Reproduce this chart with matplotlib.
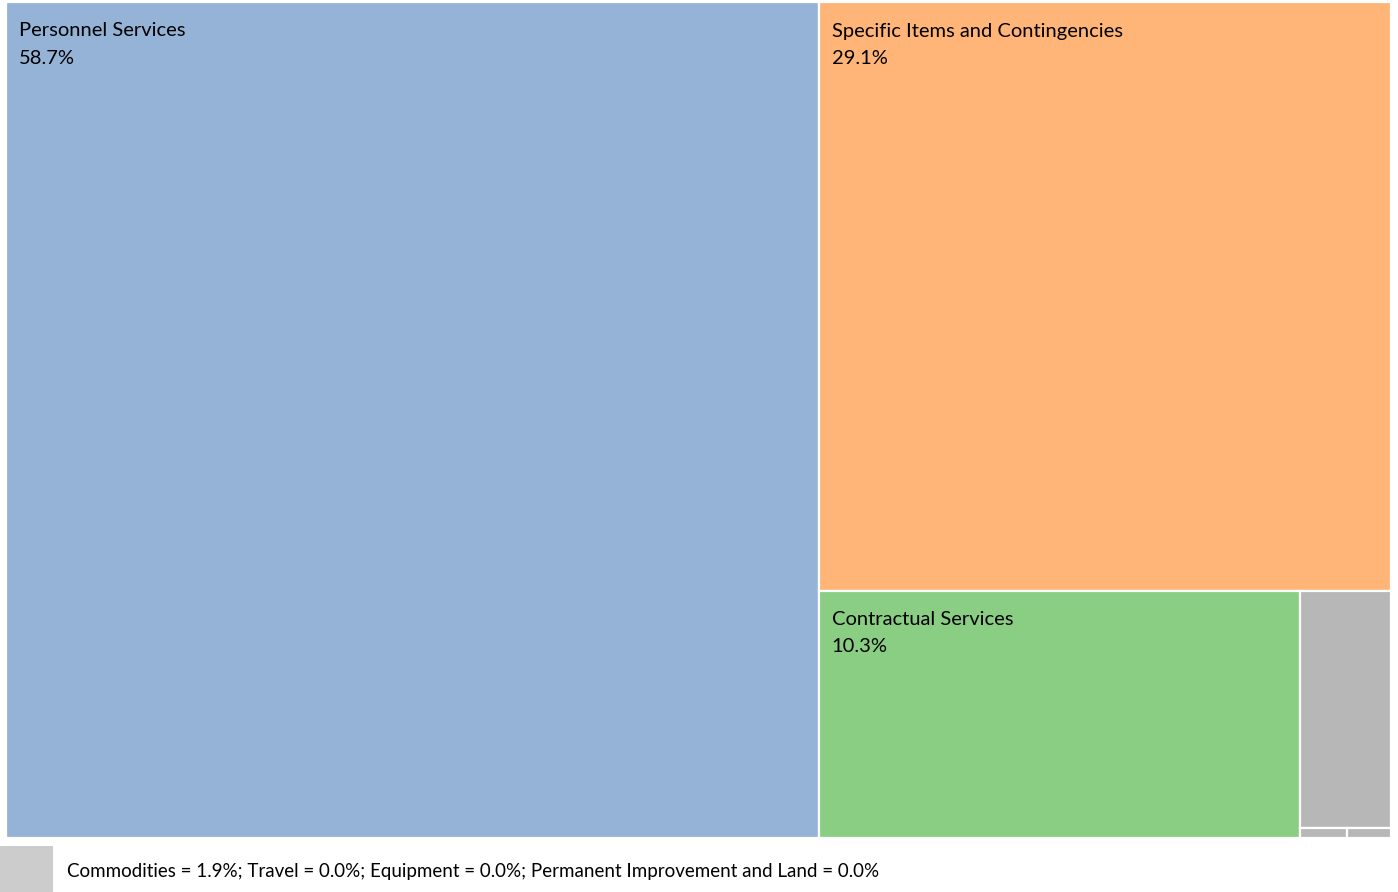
import matplotlib
matplotlib.use("Agg")
import matplotlib.pyplot as plt
from matplotlib.patches import Rectangle

categories = ["Personnel Services", "Specific Items and Contingencies", "Contractual Services",
              "Commodities", "Travel", "Equipment", "Permanent Improvement and Land"]
values = [58.7, 29.1, 10.3, 1.86, 0.04, 0.038, 0.0]
colors = ["#95B3D7", "#FFB577", "#8ACE84", "#B7B7B7", "#B7B7B7", "#B7B7B7", "#B7B7B7"]
labeled = [True, True, True, False, False, False, False]
legend_color = "#CCCCCC"

FONT = "Lato"


def worst(row, side):
    s = sum(row)
    if s <= 0:
        return float("inf")
    mx, mn = max(row), min(row)
    return max(side * side * mx / (s * s), (s * s) / (side * side * mn))


def layout_row(row, x, y, w, h):
    s = sum(row)
    rects = []
    if w >= h:  # column along the left
        cw = s / h
        cy = y
        for a in row:
            rh = a / cw
            rects.append((x, cy, cw, rh))
            cy += rh
        return rects, (x + cw, y, w - cw, h)
    else:  # row along the top
        rh = s / w
        cx = x
        for a in row:
            rw = a / rh
            rects.append((cx, y, rw, rh))
            cx += rw
        return rects, (x, y + rh, w, h - rh)


def squarify(areas, x, y, w, h):
    out = []
    areas = list(areas)
    while areas:
        side = min(w, h)
        row = [areas.pop(0)]
        while areas and worst(row + [areas[0]], side) <= worst(row, side):
            row.append(areas.pop(0))
        rects, (x, y, w, h) = layout_row(row, x, y, w, h)
        out.extend(rects)
    return out


W, H = 1398, 892
fig = plt.figure(figsize=(W / 100, H / 100), dpi=100)
ax = fig.add_axes([0, 0, 1, 1])
ax.set_xlim(0, W)
ax.set_ylim(H, 0)
ax.axis("off")

X0, Y0, X1, Y1 = 6, 2, 1391, 838
tw, th = X1 - X0, Y1 - Y0
nz = [(i, v) for i, v in enumerate(values) if v > 0]
total = sum(v for _, v in nz)
areas = [v / total * tw * th for _, v in nz]
rects = squarify(areas, X0, Y0, tw, th)

for (i, v), (rx, ry, rw, rh) in zip(nz, rects):
    ax.add_patch(Rectangle((rx, ry), rw, rh, facecolor=colors[i], edgecolor="white", linewidth=1.6))
    if labeled[i]:
        ax.text(rx + 13, ry + 29, categories[i], ha="left", va="center",
                fontsize=14.5, family=FONT, color="black")
        ax.text(rx + 13, ry + 56, f"{values[i]:.1f}%", ha="left", va="center",
                fontsize=14.5, family=FONT, color="black")

# legend for the small ones
ax.add_patch(Rectangle((0, 846), 53, 50, facecolor=legend_color, edgecolor="none"))
small = [f"{categories[i]} = {values[i]:.1f}%" for i in range(len(values)) if not labeled[i]]
ax.text(67, 872, "; ".join(small), ha="left", va="center", fontsize=13.5, family=FONT, color="black")

fig.savefig("out.png", dpi=100)
